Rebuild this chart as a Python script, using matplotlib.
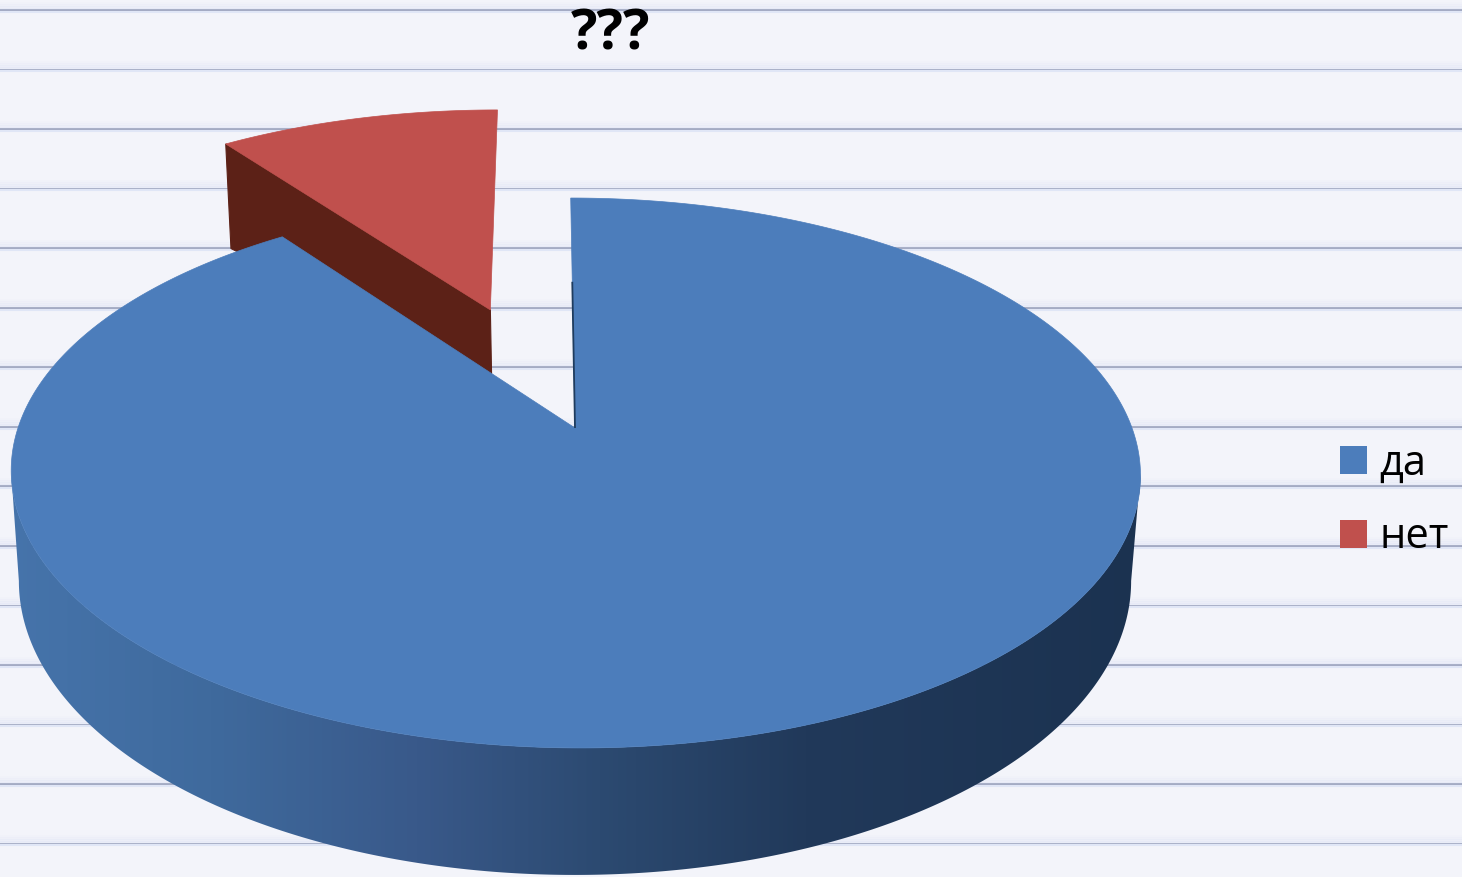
import numpy as np
import matplotlib
matplotlib.use("Agg")
import matplotlib.pyplot as plt
from matplotlib.patches import Polygon, Patch
from matplotlib.colors import LinearSegmentedColormap

# ---- data ----
categories = ["да", "нет"]
values = [90, 10]
title = "???"
colors = ["#4c7dbb", "#c0504d"]
explode = [0.0, 0.5]

W, H = 1462, 877
K_TOP, K_BOT = 0.1636, 0.34
plt.rcParams["font.family"] = ["Open Sans", "DejaVu Sans"]
fig = plt.figure(figsize=(W / 100, H / 100), dpi=100, facecolor="#f3f4fa")
ax = fig.add_axes([0, 0, 1, 1])
ax.set_xlim(0, W)
ax.set_ylim(H, 0)
ax.axis("off")

# ruled-paper background
for y in 10 + 59.55 * np.arange(15):
    for off, alpha in [(1.5, 0.55), (3.5, 0.4), (5.5, 0.25), (7.5, 0.12)]:
        ax.axhline(y - off, color="#e2e6f6", lw=2.0, alpha=alpha, zorder=0.2)
    ax.axhline(y, color="#a2a9c2", lw=2.0, zorder=0.5)
    ax.axhline(y + 1.8, color="#e0e6f6", lw=1.5, zorder=0.5)

# projection of the pie's disc onto the screen
def top(u, v):
    w = 1 - K_TOP * v
    return 575 + (557 * u + 5 * v) / w, 428 + 267.6 * v / w

def bottom(u, v):
    w = 1 - K_BOT * v
    return 575 + 523 * u / w, 481 + 260 * v / w

def bottom_y(v):
    return 481 + 260 * v / (1 - K_BOT * v)

fractions = np.array(values) / sum(values)
edges = np.concatenate([[0], np.cumsum(fractions)]) * 2 * np.pi
n_deg = 400

# exploded slice (drawn first, behind the main slice)
for i in [1]:
    phi = np.linspace(edges[i], edges[i + 1], n_deg)
    mid = (edges[i] + edges[i + 1]) / 2
    du, dv = explode[i] * np.sin(mid) - 0.005, -explode[i] * np.cos(mid)
    ax_, ay_ = top(du, dv)
    rx, ry = top(du + np.sin(phi), dv - np.cos(phi))
    lu, lv = du + np.sin(edges[i]), dv - np.cos(edges[i])
    lx, ly = top(lu, lv)
    bx = lambda x: 575 + (x - 575) * 0.985
    side = [(lx, ly), (ax_, ay_), (bx(ax_), bottom_y(dv) + 3), (bx(lx), bottom_y(lv))]
    ax.add_patch(Polygon(side, closed=True, fc="#5c2117", ec="#5c2117", lw=0.8, zorder=2))
    ax.add_patch(Polygon(np.r_[[(ax_, ay_)], np.c_[rx, ry]], closed=True,
                         fc=colors[i], ec=colors[i], lw=0.5, zorder=3))

# main slice: side wall with a horizontal shading gradient
th_top = np.linspace(np.arcsin(K_TOP), np.pi - np.arcsin(K_TOP), 500)
th_bot = np.linspace(np.arcsin(K_BOT), np.pi - np.arcsin(K_BOT), 500)
rimx, rimy = top(np.cos(th_top), np.sin(th_top))
botx, boty = bottom(np.cos(th_bot), np.sin(th_bot))
sil = np.r_[np.c_[rimx, rimy], np.c_[botx[::-1], boty[::-1]]]
clip = Polygon(sil, closed=True, transform=ax.transData, fc="none", ec="none")
ax.add_patch(clip)
cmap = LinearSegmentedColormap.from_list(
    "wall", [(0, "#4674ab"), (0.18, "#3f6a9d"), (0.36, "#39598a"),
             (0.52, "#2c4a71"), (0.70, "#21395a"), (1, "#1b3250")])
im = ax.imshow(np.linspace(0, 1, 512)[None, :], cmap=cmap, aspect="auto",
               extent=(5, 1150, 880, 400), zorder=4)
ax.set_xlim(0, W)
ax.set_ylim(H, 0)
im.set_clip_path(clip)

# main slice: top face
phi = np.linspace(edges[0], edges[1], 1200)
fx, fy = top(np.sin(phi), -np.cos(phi))
cx, cy = top(0, 0)
ax.add_patch(Polygon(np.r_[[(cx, cy)], np.c_[fx, fy]], closed=True,
                     fc=colors[0], ec=colors[0], lw=0.5, zorder=5))
# dark inner cut on the notch's right edge
ex, ey = top(np.array([0.0, 0.0]), np.array([0.0, -0.6]))
ax.plot(ex, ey, color="#1f3c5e", lw=1.3, zorder=6, solid_capstyle="butt")

# title
ax.set_title(title, x=611 / W, y=1 - 49 / H, fontsize=40, fontweight="bold",
             color="black", va="baseline", pad=0)

# legend
handles = [Patch(fc=c, ec="none", label=l) for c, l in zip(colors, categories)]
ax.legend(handles=handles, loc="upper left", bbox_to_anchor=(1340 / W, 1 - 443 / H),
          frameon=False, fontsize=30, handlelength=0.65, handleheight=0.65,
          handletextpad=0.3, labelspacing=0.75, borderpad=0, borderaxespad=0,
          labelcolor="black")

fig.savefig("out.png", dpi=100, facecolor=fig.get_facecolor())
